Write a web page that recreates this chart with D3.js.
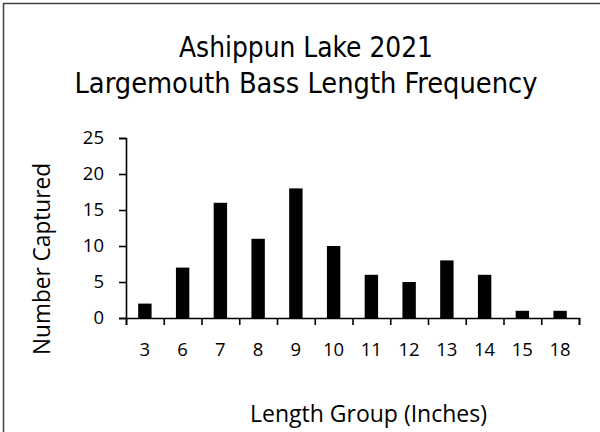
<!DOCTYPE html>
<html><head><meta charset="utf-8">
<script src="https://cdn.jsdelivr.net/npm/d3@7"></script>
<style>html,body{margin:0;padding:0;background:#fff;}svg{display:block;}</style>
</head><body>
<svg id="chart" width="600" height="432"></svg>
<script>
const categories = ["3","6","7","8","9","10","11","12","13","14","15","18"];
const counts = [2,7,16,11,18,10,6,5,8,6,1,1];
const yTicks = [0,5,10,15,20,25];
const titleLines = ["Ashippun Lake 2021","Largemouth Bass Length Frequency"];
const xTitle = "Length Group (Inches)";
const yTitle = "Number Captured";

(function(){
const svg = d3.select("#chart");
const W = 600, H = 432;
svg.append("rect").attr("width",W).attr("height",H).attr("fill","#fff");
// border (cropped at right/bottom)
svg.append("rect").attr("x",3.5).attr("y",3.5).attr("width",W+10).attr("height",H+10)
  .attr("fill","none").attr("stroke","#404040").attr("stroke-width",1.5);

const pL = 126, pR = 579, pT = 138, pB = 318;
const x = d3.scaleBand().domain(categories).range([pL,pR]).paddingInner(0.645).paddingOuter(0.3225);
const xl = d3.scaleLinear().domain([0,categories.length]).range([pL,pR]);
const y = d3.scaleLinear().domain([0,25]).range([pB,pT]);

const cfont = "'Open Sans', 'Liberation Sans', sans-serif";

// bars
svg.append("g").selectAll("rect").data(counts).join("rect")
  .attr("x",(d,i)=>x(categories[i])).attr("width",x.bandwidth())
  .attr("y",d=>y(d)).attr("height",d=>y(0)-y(d)).attr("fill","#000");

// y axis
const ya = svg.append("g").attr("transform",`translate(${pL},0)`)
  .call(d3.axisLeft(y).tickValues(yTicks).tickSize(7).tickPadding(15));
ya.selectAll("path,line").attr("stroke","#000").attr("stroke-width",1.6);
ya.selectAll("text").attr("font-family",cfont).attr("font-size",18.5).attr("fill","#000");

// x axis ticks at band boundaries
const xa = svg.append("g").attr("transform",`translate(0,${pB})`)
  .call(d3.axisBottom(xl).tickValues(d3.range(categories.length+1)).tickSize(7).tickFormat(""));
xa.selectAll("path,line").attr("stroke","#000").attr("stroke-width",1.6);
// x category labels
const xb = svg.append("g").attr("transform",`translate(0,${pB})`)
  .call(d3.axisBottom(x).tickSize(0).tickPadding(25));
xb.select(".domain").remove();
xb.selectAll("text").attr("font-family",cfont).attr("font-size",18.5).attr("fill","#000");

// titles
const tfont = "'Liberation Sans Narrow', 'DejaVu Sans Condensed', 'Roboto', sans-serif";
const tw = [254, 463];
const tb = [57, 93];
titleLines.forEach((t,i)=>{
  svg.append("text").attr("x",306).attr("y",tb[i]).attr("text-anchor","middle")
    .attr("font-family",tfont).attr("font-size",27.5).attr("fill","#000").text(t)
    .attr("textLength",tw[i]).attr("lengthAdjust","spacingAndGlyphs");
});

svg.append("text").attr("x",368.5).attr("y",422).attr("text-anchor","middle")
  .attr("font-family",cfont).attr("font-size",23).attr("fill","#000").text(xTitle)
  .attr("textLength",237).attr("lengthAdjust","spacingAndGlyphs");
svg.append("text").attr("transform","translate(50,259) rotate(-90)").attr("text-anchor","middle")
  .attr("font-family",cfont).attr("font-size",23).attr("fill","#000").text(yTitle)
  .attr("textLength",192).attr("lengthAdjust","spacingAndGlyphs");
})();
</script>
</body></html>
